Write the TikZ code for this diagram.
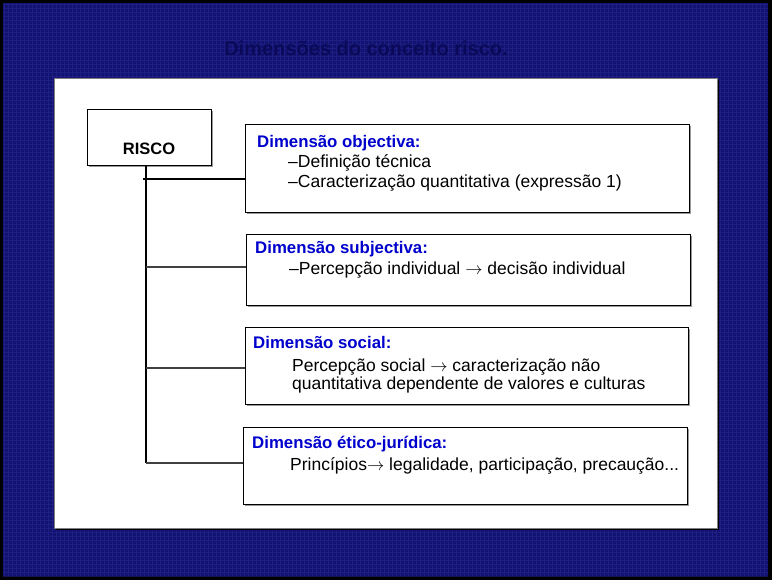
\documentclass[tikz,border=0pt]{standalone}
\usepackage{fontspec}
\setmainfont{Liberation Sans}
\newcommand{\myarr}{\ensuremath{\rightarrow}}
\usetikzlibrary{shadows}
\definecolor{navybg}{RGB}{18,18,112}
\definecolor{navyln}{RGB}{40,40,150}
\definecolor{titlecol}{RGB}{10,10,88}
\definecolor{headblue}{RGB}{0,0,204}
\tikzset{
  dimbox/.style={draw=black, line width=1pt, fill=white, anchor=north west, inner sep=0pt,
    drop shadow={shadow xshift=1.2pt, shadow yshift=-1.2pt, fill=gray!80, opacity=1}},
  head/.style={anchor=base west, inner sep=0pt, text=headblue, font=\fontsize{16.8}{20}\selectfont\bfseries},
  body/.style={anchor=base west, inner sep=0pt, font=\fontsize{17.5}{20}\selectfont},
  conn/.style={line width=1.2pt, draw=black!75},
  trunkline/.style={line width=1.2pt, draw=black}
}
\begin{document}
\begin{tikzpicture}[x=1pt,y=-1pt]
\useasboundingbox (0,0) rectangle (772,580);
% background
\fill[black] (0,0) rectangle (772,580);
\fill[navybg] (3,3) rectangle (768,576);
\begin{scope}
\clip (3,3) rectangle (768,576);
\draw[navyln, line width=0.7pt, opacity=0.55, step=4pt] (3,3) grid (768,576);
\end{scope}
% title
\node[text=titlecol, font=\fontsize{20}{24}\selectfont\bfseries] (title) at (366,48) {Dimensões do conceito risco.};
% white panel
\fill[black] (56,80) rectangle (719,530);
\node[fill=white, draw=gray, line width=0.6pt, anchor=north west, minimum width=663pt, minimum height=450pt, inner sep=0pt] (panel) at (54,78) {};
% RISCO box
\node[draw=black, line width=1pt, fill=white, anchor=north west, minimum width=124pt, minimum height=56pt, inner sep=0pt,
  drop shadow={shadow xshift=1.2pt, shadow yshift=-1.2pt, fill=gray!80, opacity=1}] (risco) at (87,109) {};
\node[font=\fontsize{16.5}{20}\selectfont\bfseries, inner sep=0pt] (riscolbl) at (149,149) {RISCO};
% dimension boxes
\node[dimbox, minimum width=444pt, minimum height=88pt] (obj) at (245,124) {};
\node[dimbox, minimum width=444pt, minimum height=71pt] (subj) at (246,234) {};
\node[dimbox, minimum width=443pt, minimum height=77pt] (soc) at (245,327) {};
\node[dimbox, minimum width=444pt, minimum height=77pt] (etic) at (243,427) {};
% texts
\node[head] (objh) at (257,148) {Dimensão objectiva:};
\node[body] (obj1) at (288,168) {–Definição técnica};
\node[body] (obj2) at (288,188) {–Caracterização quantitativa (expressão 1)};
\node[head] (subjh) at (255,254) {Dimensão subjectiva:};
\node[body] (subj1) at (289,275) {–Percepção individual \myarr{} decisão individual};
\node[head] (soch) at (253,349) {Dimensão social:};
\node[body] (soc1) at (292,371) {Percepção social \myarr{} caracterização não};
\node[body] (soc2) at (292,390) {quantitativa dependente de valores e culturas};
\node[head] (etich) at (252,448) {Dimensão ético-jurídica:};
\node[body] (etic1) at (290,470) {Princípios\myarr{} legalidade, participação, precaução...};
% connectors
\coordinate (trunkend) at (146,463);
\draw[trunkline] (risco.south -| trunkend) -- (trunkend);
\draw[trunkline] (143,179) -- (obj.west |- 143,179);
\draw[conn] (146,267) -- (subj.west |- 146,267);
\draw[conn] (146,368) -- (soc.west |- 146,368);
\draw[conn] (146,463) -- (etic.west |- 146,463);
\end{tikzpicture}
\end{document}
